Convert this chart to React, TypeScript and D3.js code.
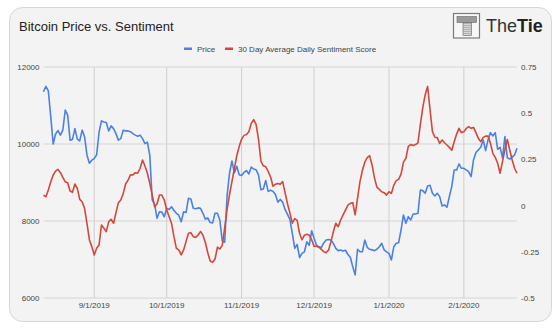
import React from "react";
import * as d3 from "d3";

const START = Date.UTC(2019, 7, 11);
const END = Date.UTC(2020, 1, 23);
const DAY = 86400000;

const priceValues: number[] = [
  11358, 11500, 11380, 10710, 10000, 10260, 10350, 10230, 10360, 10880,
  10750, 10100, 10120, 10400, 10125, 10080, 10360, 10190, 9710, 9500,
  9580, 9620, 9720, 10310, 10600, 10570, 10560, 10340, 10470, 10400,
  10270, 10100, 10140, 10360, 10340, 10340, 10320, 10270, 10230, 10200,
  10230, 10140, 10010, 10050, 9700, 8550, 8430, 8070, 8240, 8230,
  8110, 8330, 8300, 8370, 8280, 8200, 8150, 7980, 8240, 8220,
  8590, 8570, 8330, 8320, 8340, 8330, 8200, 8050, 8080, 7960,
  7950, 8200, 8200, 8020, 7480, 7450, 8660, 9240, 9560, 9250,
  9420, 9200, 9180, 9260, 9310, 9220, 9400, 9350, 9330, 9200,
  8810, 8830, 9050, 8770, 8800, 8770, 8690, 8490, 8560, 8490,
  8300, 8170, 8040, 7680, 7290, 7390, 7050, 7160, 7200, 7460,
  7370, 7745, 7550, 7375, 7330, 7310, 7430, 7505, 7520, 7505,
  7415, 7290, 7230, 7245, 7220, 7240, 7130, 7060, 6815, 6600,
  7265, 7200, 7200, 7506, 7315, 7265, 7250, 7230, 7265, 7330,
  7420, 7250, 7200, 7160, 6990, 7333, 7420, 7437, 7766, 8156,
  7940, 8113, 8026, 8182, 8182, 8200, 8806, 8789, 8720, 8910,
  8927, 8720, 8650, 8720, 8633, 8391, 8417, 8356, 8633, 8893,
  9326, 9326, 9482, 9369, 9369, 9326, 9283, 9153, 9586, 9777,
  9846, 9915, 10106, 9829, 10106, 10296, 10210, 10296, 9863, 9915,
  9640, 10193, 9640, 9610, 9660, 9716, 9889,
];

const sentimentValues: number[] = [
  0.057, 0.048, 0.084, 0.129, 0.165, 0.187, 0.196, 0.178, 0.153, 0.129,
  0.124, 0.079, 0.072, 0.117, 0.093, 0.034, 0.021, -0.015, -0.096, -0.186,
  -0.222, -0.267, -0.231, -0.213, -0.105, -0.123, -0.141, -0.087, -0.074, -0.096,
  -0.038, 0.016, 0.03, 0.066, 0.117, 0.138, 0.166, 0.166, 0.178, 0.175,
  0.202, 0.247, 0.214, 0.175, 0.12, 0.057, -0.006, 0.009, 0.057, 0.057,
  0.03, -0.024, -0.06, -0.096, -0.168, -0.231, -0.24, -0.267, -0.24, -0.195,
  -0.15, -0.147, -0.168, -0.172, -0.16, -0.14, -0.16, -0.2, -0.255, -0.3,
  -0.307, -0.29, -0.225, -0.235, -0.215, -0.12, -0.02, 0.06, 0.13, 0.2,
  0.27, 0.32, 0.36, 0.38, 0.385, 0.4, 0.445, 0.465, 0.44, 0.36,
  0.24, 0.215, 0.21, 0.185, 0.155, 0.105, 0.115, 0.12, 0.115, 0.13,
  0.07, 0.01, -0.04, -0.095, -0.07, -0.08, -0.15, -0.185, -0.16, -0.155,
  -0.16, -0.185, -0.22, -0.22, -0.225, -0.237, -0.249, -0.255, -0.24, -0.195,
  -0.14, -0.096, -0.114, -0.078, -0.05, -0.024, 0.003, 0.012, 0.016, -0.05,
  0.04, 0.13, 0.19, 0.235, 0.26, 0.27, 0.22, 0.15, 0.1, 0.088,
  0.075, 0.07, 0.057, 0.075, 0.066, 0.11, 0.135, 0.142, 0.17, 0.235,
  0.255, 0.32, 0.33, 0.325, 0.33, 0.34, 0.44, 0.53, 0.6, 0.645,
  0.52, 0.4, 0.37, 0.368, 0.337, 0.355, 0.34, 0.328, 0.315, 0.3,
  0.346, 0.387, 0.418, 0.395, 0.4, 0.418, 0.427, 0.418, 0.423, 0.395,
  0.364, 0.346, 0.369, 0.376, 0.376, 0.337, 0.283, 0.261, 0.229, 0.175,
  0.238, 0.304, 0.358, 0.301, 0.247, 0.202, 0.175,
];

const xTicks: Date[] = [
  new Date(Date.UTC(2019, 8, 1)),
  new Date(Date.UTC(2019, 9, 1)),
  new Date(Date.UTC(2019, 10, 1)),
  new Date(Date.UTC(2019, 11, 1)),
  new Date(Date.UTC(2020, 0, 1)),
  new Date(Date.UTC(2020, 1, 1)),
];
const leftTicks = [6000, 8000, 10000, 12000];
const rightTicks = [-0.5, -0.25, 0, 0.25, 0.5, 0.75];
const seriesNames = ["Price", "30 Day Average Daily Sentiment Score"];

const FONT = "'Liberation Sans', Arial, Helvetica, sans-serif";
const BLUE = "#4a82e4";
const RED = "#d4483b";

export default function App() {
  React.useEffect(() => {
    document.body.style.margin = "0";
  }, []);

  const left = 43.5;
  const right = 517;
  const top = 67;
  const bottom = 298;

  const x = d3.scaleUtc().domain([new Date(START), new Date(END)]).range([left, right]);
  const yL = d3.scaleLinear().domain([6000, 12000]).range([bottom, top]);
  const yR = d3.scaleLinear().domain([-0.5, 0.75]).range([bottom, top]);

  const dates = priceValues.map((_, i) => new Date(START + i * DAY));
  const priceLine = d3
    .line<number>()
    .x((_, i) => x(dates[i]))
    .y((v) => yL(v));
  const sentLine = d3
    .line<number>()
    .x((_, i) => x(dates[i]))
    .y((v) => yR(v));

  const fmt = d3.utcFormat("%-m/%-d/%Y");
  const fmtR = (v: number) => String(v);

  return (
    <svg
      width={560}
      height={329}
      style={{ position: "absolute", left: 0, top: 0, display: "block" }}
      fontFamily={FONT}
    >
      <rect x={0} y={0} width={560} height={329} fill="#ffffff" />
      <rect
        x={9.5}
        y={7.5}
        width={542}
        height={314}
        rx={13}
        fill="#f3f3f3"
        stroke="#cfd8df"
        strokeWidth={1}
      />
      <text x={19} y={31} fontSize={13} fill="#222">
        Bitcoin Price vs. Sentiment
      </text>

      {/* logo */}
      <g>
        <rect x={453.5} y={13.5} width={26} height={24.5} fill="#f7f7f7" stroke="#7a7a7a" strokeWidth={1.2} />
        <rect x={457} y={16.5} width={19.5} height={6} fill="#9a9a9a" stroke="#666" strokeWidth={0.6} />
        <rect x={463} y={22.5} width={8.5} height={13} fill="#b0b0b0" stroke="#666" strokeWidth={0.6} />
        {d3.range(0, 6).map((i) => (
          <line key={i} x1={463.5} x2={471} y1={24.5 + i * 2} y2={24.5 + i * 2} stroke="#e6e6e6" strokeWidth={0.7} />
        ))}
        <text x={486} y={32} fontSize={18} fill="#333">
          The<tspan fontWeight="bold" fill="#222">Tie</tspan>
        </text>
      </g>

      {/* legend */}
      <rect x={184} y={47.5} width={8} height={2.5} fill={BLUE} />
      <text x={197} y={51.5} fontSize={8} fill="#444">
        {seriesNames[0]}
      </text>
      <rect x={225} y={47.5} width={8} height={2.5} fill={RED} />
      <text x={238} y={51.5} fontSize={8} fill="#444">
        {seriesNames[1]}
      </text>

      {/* grid */}
      {leftTicks.map((t) => (
        <line key={"h" + t} x1={left} x2={right} y1={yL(t)} y2={yL(t)} stroke="#d6d6d6" strokeWidth={1.2} />
      ))}
      {xTicks.map((t) => (
        <line key={"v" + t.getTime()} x1={x(t)} x2={x(t)} y1={top} y2={bottom} stroke="#cfcfcf" strokeWidth={1} />
      ))}

      {/* axis labels */}
      {leftTicks.map((t) => (
        <text key={"l" + t} x={39.5} y={yL(t) + 3} fontSize={8} fill="#444" textAnchor="end">
          {t}
        </text>
      ))}
      {rightTicks.map((t) => (
        <text key={"r" + t} x={521} y={yR(t) + 3} fontSize={8} fill="#444">
          {fmtR(t)}
        </text>
      ))}
      {xTicks.map((t) => (
        <text key={"x" + t.getTime()} x={x(t)} y={308} fontSize={8} fill="#444" textAnchor="middle">
          {fmt(t)}
        </text>
      ))}

      {/* lines */}
      <path d={priceLine(priceValues) || ""} fill="none" stroke={BLUE} strokeWidth={1.6} strokeLinejoin="round" />
      <path d={sentLine(sentimentValues) || ""} fill="none" stroke={RED} strokeWidth={1.6} strokeLinejoin="round" />
    </svg>
  );
}
